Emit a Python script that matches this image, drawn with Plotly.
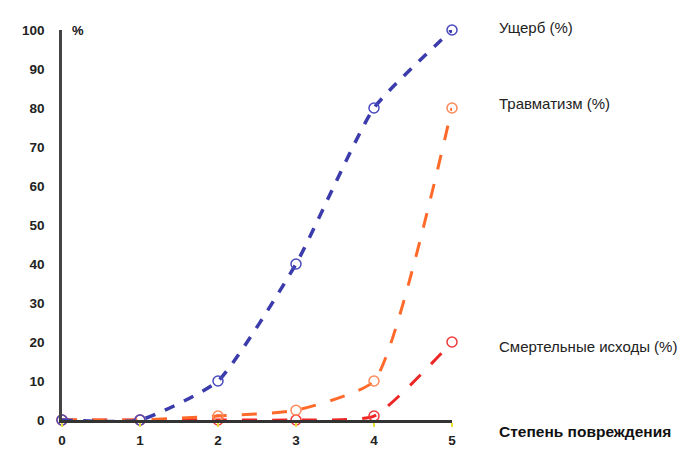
import plotly.graph_objects as go

x_vals = [0, 1, 2, 3, 4, 5]
damage = [0, 0, 10, 40, 80, 100]
injuries = [0, 0, 1, 2.5, 10, 80]
deaths = [0, 0, 0, 0, 1, 20]
series_names = ["Ущерб (%)", "Травматизм (%)", "Смертельные исходы (%)"]
x_title = "Степень повреждения"
y_unit = "%"
y_ticks = [0, 10, 20, 30, 40, 50, 60, 70, 80, 90, 100]

fig = go.Figure()

styles = [
    (damage, "#3b3bab", "#4a4ac0", "dash", 3.5),
    (injuries, "#ff6a2a", "#ff8a5a", "longdash", 3),
    (deaths, "#ee2626", "#f03a3a", "longdash", 3),
]
# draw red first, then orange, then blue on top
for vals, lc, mc, dash, w in reversed(styles):
    fig.add_trace(go.Scatter(
        x=x_vals, y=vals, mode="lines+markers",
        line=dict(color=lc, width=w, dash=dash, shape="spline", smoothing=0.5),
        marker=dict(symbol="circle-open", size=10, color=mc, line=dict(width=1.5, color=mc)),
        cliponaxis=False, showlegend=False,
    ))

# page body has an 8px margin, so the figure is offset by (8, 8)
OFF = 8
L, R_EDGE, T, B_EDGE = 62 - OFF, 452 - OFF, 30 - OFF, 420 - OFF
W, H = 690 - OFF, 451 - OFF
PW, PH = R_EDGE - L, B_EDGE - T

font_family = "Liberation Sans, Arial, sans-serif"
fig.update_layout(
    width=W, height=H,
    margin=dict(l=L, r=W - R_EDGE, t=T, b=H - B_EDGE),
    paper_bgcolor="white", plot_bgcolor="white",
    font=dict(family=font_family, color="#222"),
    xaxis=dict(range=[0, 5], tickvals=x_vals, showgrid=False, zeroline=False,
               showline=True, linecolor="#333", linewidth=2.5, automargin=False,
               ticks="outside", ticklen=4, tickcolor="#e8e040", tickwidth=1.5,
               ticklabelstandoff=2,
               tickfont=dict(size=13.5, family=font_family, weight="bold")),
    yaxis=dict(range=[0, 100], tickvals=y_ticks, showgrid=False, zeroline=False,
               showline=True, linecolor="#444", linewidth=2.5, ticks="", automargin=False,
               ticklabelstandoff=12,
               tickfont=dict(size=13.5, family=font_family, weight="bold")),
)


def px_to_paper(px, py):
    return (px - OFF - L) / PW, 1 - (py - OFF - T) / PH


label_pos = [(497, 27), (497, 103), (497, 346)]
for name, (px, py) in zip(series_names, label_pos):
    ax, ay = px_to_paper(px, py)
    fig.add_annotation(text=name, xref="paper", yref="paper", x=ax, y=ay,
                       xanchor="left", yanchor="middle", showarrow=False,
                       font=dict(size=15, color="#222"))

ax, ay = px_to_paper(497, 432)
fig.add_annotation(text="<b>" + x_title + "</b>", xref="paper", yref="paper",
                   x=ax, y=ay, xanchor="left", yanchor="middle", showarrow=False,
                   font=dict(size=15.5, color="#111"))
ax, ay = px_to_paper(70, 30)
fig.add_annotation(text="<b>" + y_unit + "</b>", xref="paper", yref="paper",
                   x=ax, y=ay, xanchor="left", yanchor="middle", showarrow=False,
                   font=dict(size=13, color="#111"))

fig.write_html("out.html")
